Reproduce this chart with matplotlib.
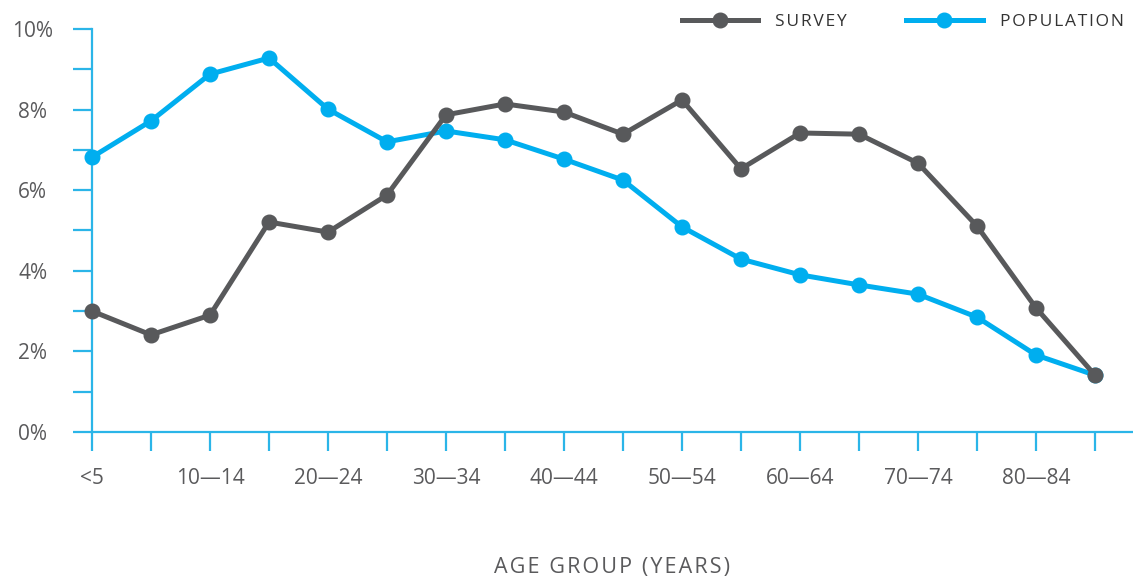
import matplotlib
matplotlib.use("Agg")
import matplotlib.pyplot as plt
import numpy as np

plt.rcParams['font.family'] = ['Open Sans', 'DejaVu Sans']

# age groups
age_groups = ["<5", "5—9", "10—14", "15—19", "20—24", "25—29", "30—34", "35—39",
              "40—44", "45—49", "50—54", "55—59", "60—64", "65—69", "70—74",
              "75—79", "80—84", "85+"]

# share of respondents / population, in %
survey = [3.0, 2.41, 2.9, 5.21, 4.96, 5.88, 7.87, 8.14, 7.94, 7.39, 8.24,
          6.53, 7.42, 7.39, 6.67, 5.11, 3.08, 1.41]
population = [6.82, 7.72, 8.88, 9.28, 8.01, 7.20, 7.47, 7.25, 6.77, 6.25,
              5.09, 4.29, 3.90, 3.65, 3.42, 2.85, 1.91, 1.41]

y_ticks = [0, 2, 4, 6, 8, 10]
y_minor = [1, 3, 5, 7, 9]

gray = '#58595B'
blue = '#00AEEF'
axis_blue = '#2BB5E8'
text_gray = '#5A5A5C'


def spaced(s):
    # letter spacing with hair spaces
    return '\u200a'.join(s)


fig = plt.figure(figsize=(11.33, 5.83), dpi=100)
ax = fig.add_axes([92 / 1133, 1 - 432 / 583, 1 - 92 / 1133, (432 - 29) / 583])

x = np.arange(len(age_groups))

ax.plot(x, population, color=blue, lw=3.6, marker='o', ms=10.5,
        label=spaced('POPULATION'), clip_on=False, zorder=3)
ax.plot(x, survey, color=gray, lw=3.6, marker='o', ms=10.5,
        label=spaced('SURVEY'), clip_on=False, zorder=4)

ax.set_xlim(0, 17 + 38 / 59)
ax.set_ylim(0, 10)

for side in ['top', 'right']:
    ax.spines[side].set_visible(False)
for side in ['left', 'bottom']:
    ax.spines[side].set_color(axis_blue)
    ax.spines[side].set_linewidth(1.6)

ax.set_xticks(x)
ax.set_xticklabels([lab if i % 2 == 0 and i < 17 else '' for i, lab in enumerate(age_groups)])
ax.set_yticks(y_ticks)
ax.set_yticklabels([f'{v}%' for v in y_ticks])
ax.set_yticks(y_minor, minor=True)

ax.tick_params(axis='both', which='both', direction='out', length=13.7,
               width=1.6, color=axis_blue, labelcolor=text_gray, labelsize=15)
ax.tick_params(axis='x', pad=12)
ax.tick_params(axis='y', pad=29)
for lab in ax.get_yticklabels():
    lab.set_horizontalalignment('center')

fig.text(612 / 1133, 1 - 567 / 583, spaced('AGE GROUP (YEARS)'), ha='center', va='center',
         fontsize=15.5, color=text_gray)

handles, labels = ax.get_legend_handles_labels()
leg = fig.legend(handles[::-1], labels[::-1], ncol=2, frameon=False,
                 loc='center right', bbox_to_anchor=(1124 / 1133, 1 - 22 / 583),
                 fontsize=12.5, handlelength=4.4, handletextpad=1.0,
                 columnspacing=3.4, borderpad=0, borderaxespad=0)
for t in leg.get_texts():
    t.set_color('#333333')

fig.savefig('out.png', dpi=100)
